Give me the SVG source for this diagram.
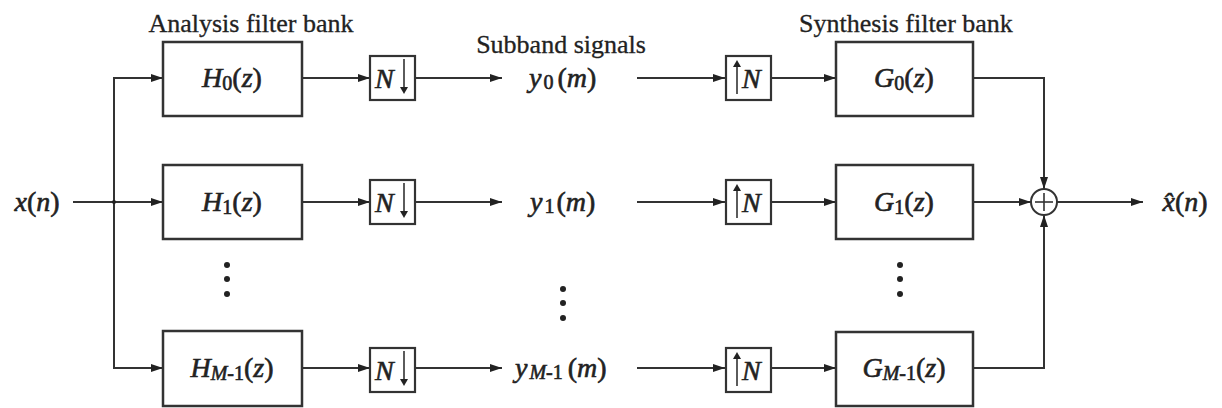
<svg xmlns="http://www.w3.org/2000/svg" width="1222" height="408" viewBox="0 0 1222 408">
  <style>
    .box { fill: #fff; stroke: #333; stroke-width: 2.5; }
    .sbox { fill: #fff; stroke: #333; stroke-width: 2.2; }
    .wire { fill: none; stroke: #333; stroke-width: 2; }
    .thin { fill: none; stroke: #333; stroke-width: 1.6; }
    .head { fill: #222; }
    .title { font-family: "Liberation Serif", "Times New Roman", serif; font-size: 26px; fill: #222; stroke: #222; stroke-width: 0.3; }
    .math { font-family: "Liberation Serif", "Times New Roman", serif; font-size: 28px; fill: #222; stroke: #222; stroke-width: 0.6; font-style: italic; }
    .up { font-style: normal; }
    .sub { font-size: 20px; font-style: normal; }
    .dot { fill: #222; }
  </style>
  <defs>
    <marker id="arrow" viewBox="0 0 12 8" refX="12" refY="4" markerWidth="12" markerHeight="8" markerUnits="userSpaceOnUse" orient="auto">
      <path d="M0,0 L12,4 L0,8 Z" class="head"/>
    </marker>
  </defs>

  <!-- headings -->
  <text class="title" x="251" y="32" text-anchor="middle">Analysis filter bank</text>
  <text class="title" x="561" y="53" text-anchor="middle">Subband signals</text>
  <text class="title" x="906" y="32" text-anchor="middle">Synthesis filter bank</text>

  <!-- connectors -->
  <g id="connectors">
    <!-- input and distribution bus -->
    <line class="wire" x1="73" y1="202" x2="163" y2="202" marker-end="url(#arrow)"/>
    <path class="wire" d="M163,78 H114 V368 H163"/>
    <line class="wire" x1="114" y1="78" x2="163" y2="78" marker-end="url(#arrow)"/>
    <line class="wire" x1="114" y1="368" x2="163" y2="368" marker-end="url(#arrow)"/>
    <circle cx="114" cy="202" r="2" class="dot"/>
    <!-- analysis filters to decimators -->
    <line class="wire" x1="302" y1="78" x2="370" y2="78" marker-end="url(#arrow)"/>
    <line class="wire" x1="302" y1="202" x2="370" y2="202" marker-end="url(#arrow)"/>
    <line class="wire" x1="302" y1="368" x2="370" y2="368" marker-end="url(#arrow)"/>
    <!-- decimators to subband signals -->
    <line class="wire" x1="415" y1="78" x2="502" y2="78" marker-end="url(#arrow)"/>
    <line class="wire" x1="415" y1="202" x2="502" y2="202" marker-end="url(#arrow)"/>
    <line class="wire" x1="415" y1="368" x2="502" y2="368" marker-end="url(#arrow)"/>
    <!-- subband signals to expanders -->
    <line class="wire" x1="637" y1="78" x2="725" y2="78" marker-end="url(#arrow)"/>
    <line class="wire" x1="637" y1="202" x2="725" y2="202" marker-end="url(#arrow)"/>
    <line class="wire" x1="637" y1="368" x2="725" y2="368" marker-end="url(#arrow)"/>
    <!-- expanders to synthesis filters -->
    <line class="wire" x1="771" y1="78" x2="836" y2="78" marker-end="url(#arrow)"/>
    <line class="wire" x1="771" y1="202" x2="836" y2="202" marker-end="url(#arrow)"/>
    <line class="wire" x1="771" y1="368" x2="836" y2="368" marker-end="url(#arrow)"/>
    <!-- synthesis filters to adder -->
    <path class="wire" d="M973,78 H1044 V189" marker-end="url(#arrow)"/>
    <line class="wire" x1="973" y1="202" x2="1031" y2="202" marker-end="url(#arrow)"/>
    <path class="wire" d="M973,368 H1044 V215" marker-end="url(#arrow)"/>
    <!-- output -->
    <line class="wire" x1="1057" y1="202" x2="1143" y2="202" marker-end="url(#arrow)"/>
  </g>

  <!-- input / output labels -->
  <text id="input" class="math" x="37" y="211" text-anchor="middle">x<tspan class="up">(</tspan>n<tspan class="up">)</tspan></text>
  <text id="output" class="math" x="1185" y="211" text-anchor="middle">x̂<tspan class="up">(</tspan>n<tspan class="up">)</tspan></text>

  <!-- analysis filters -->
  <g id="H0">
    <rect class="box" x="163" y="42" width="139" height="74"/>
    <text class="math" x="232" y="87" text-anchor="middle">H<tspan class="sub" dy="3">0</tspan><tspan class="up" dy="-3">(</tspan>z<tspan class="up">)</tspan></text>
  </g>
  <g id="H1">
    <rect class="box" x="163" y="165" width="139" height="74"/>
    <text class="math" x="232" y="211" text-anchor="middle">H<tspan class="sub" dy="3">1</tspan><tspan class="up" dy="-3">(</tspan>z<tspan class="up">)</tspan></text>
  </g>
  <g id="HM1">
    <rect class="box" x="163" y="331" width="139" height="75"/>
    <text class="math" x="232" y="377" text-anchor="middle">H<tspan class="sub" dy="3"><tspan font-style="italic">M</tspan>-1</tspan><tspan class="up" dy="-3">(</tspan>z<tspan class="up">)</tspan></text>
  </g>

  <!-- decimators -->
  <g id="down0">
    <rect class="sbox" x="370" y="56" width="45" height="44"/>
    <text class="math" x="375" y="88" font-size="26">N</text>
    <line class="thin" x1="404" y1="59" x2="404" y2="88"/>
    <path class="head" d="M400,87 L408,87 L404,94 Z"/>
  </g>
  <g id="down1">
    <rect class="sbox" x="370" y="180" width="45" height="44"/>
    <text class="math" x="375" y="212" font-size="26">N</text>
    <line class="thin" x1="404" y1="183" x2="404" y2="212"/>
    <path class="head" d="M400,211 L408,211 L404,218 Z"/>
  </g>
  <g id="downM1">
    <rect class="sbox" x="370" y="348" width="45" height="44"/>
    <text class="math" x="375" y="380" font-size="26">N</text>
    <line class="thin" x1="404" y1="351" x2="404" y2="380"/>
    <path class="head" d="M400,379 L408,379 L404,386 Z"/>
  </g>

  <!-- subband signals -->
  <g id="y0">
    <text class="math" x="529" y="87">y<tspan class="sub" dy="2" dx="2">0</tspan><tspan class="up" dy="-2" dx="4">(</tspan>m<tspan class="up">)</tspan></text>
  </g>
  <g id="y1">
    <text class="math" x="530" y="211">y<tspan class="sub" dy="2" dx="2">1</tspan><tspan class="up" dy="-2" dx="2">(</tspan>m<tspan class="up">)</tspan></text>
  </g>
  <g id="yM1">
    <text class="math" x="515" y="377">y<tspan class="sub" dy="2" dx="2"><tspan font-style="italic">M</tspan>-1</tspan><tspan class="up" dy="-2" dx="5">(</tspan>m<tspan class="up">)</tspan></text>
  </g>

  <!-- expanders -->
  <g id="up0">
    <rect class="sbox" x="726" y="56" width="45" height="44"/>
    <line class="thin" x1="737" y1="94" x2="737" y2="66"/>
    <path class="head" d="M733,67 L741,67 L737,60 Z"/>
    <text class="math" x="742" y="88" font-size="26">N</text>
  </g>
  <g id="up1">
    <rect class="sbox" x="726" y="180" width="45" height="44"/>
    <line class="thin" x1="737" y1="218" x2="737" y2="190"/>
    <path class="head" d="M733,191 L741,191 L737,184 Z"/>
    <text class="math" x="742" y="212" font-size="26">N</text>
  </g>
  <g id="upM1">
    <rect class="sbox" x="726" y="348" width="45" height="44"/>
    <line class="thin" x1="737" y1="386" x2="737" y2="358"/>
    <path class="head" d="M733,359 L741,359 L737,352 Z"/>
    <text class="math" x="742" y="380" font-size="26">N</text>
  </g>

  <!-- synthesis filters -->
  <g id="G0">
    <rect class="box" x="836" y="42" width="137" height="74"/>
    <text class="math" x="904" y="87" text-anchor="middle">G<tspan class="sub" dy="3">0</tspan><tspan class="up" dy="-3">(</tspan>z<tspan class="up">)</tspan></text>
  </g>
  <g id="G1">
    <rect class="box" x="836" y="165" width="137" height="74"/>
    <text class="math" x="904" y="211" text-anchor="middle">G<tspan class="sub" dy="3">1</tspan><tspan class="up" dy="-3">(</tspan>z<tspan class="up">)</tspan></text>
  </g>
  <g id="GM1">
    <rect class="box" x="836" y="332" width="137" height="74"/>
    <text class="math" x="904" y="377" text-anchor="middle">G<tspan class="sub" dy="3"><tspan font-style="italic">M</tspan>-1</tspan><tspan class="up" dy="-3">(</tspan>z<tspan class="up">)</tspan></text>
  </g>

  <!-- adder -->
  <g id="adder">
    <circle cx="1044" cy="202" r="13" fill="#fff" stroke="#333" stroke-width="2"/>
    <line class="thin" x1="1035" y1="202" x2="1053" y2="202"/>
    <line class="thin" x1="1044" y1="193" x2="1044" y2="211"/>
  </g>

  <!-- ellipses for omitted branches -->
  <g id="ellipses">
    <circle class="dot" cx="227" cy="265" r="3"/>
    <circle class="dot" cx="227" cy="279" r="3"/>
    <circle class="dot" cx="227" cy="294" r="3"/>
    <circle class="dot" cx="563" cy="289" r="3"/>
    <circle class="dot" cx="563" cy="303" r="3"/>
    <circle class="dot" cx="563" cy="318" r="3"/>
    <circle class="dot" cx="900" cy="265" r="3"/>
    <circle class="dot" cx="900" cy="279" r="3"/>
    <circle class="dot" cx="900" cy="294" r="3"/>
  </g>
</svg>
